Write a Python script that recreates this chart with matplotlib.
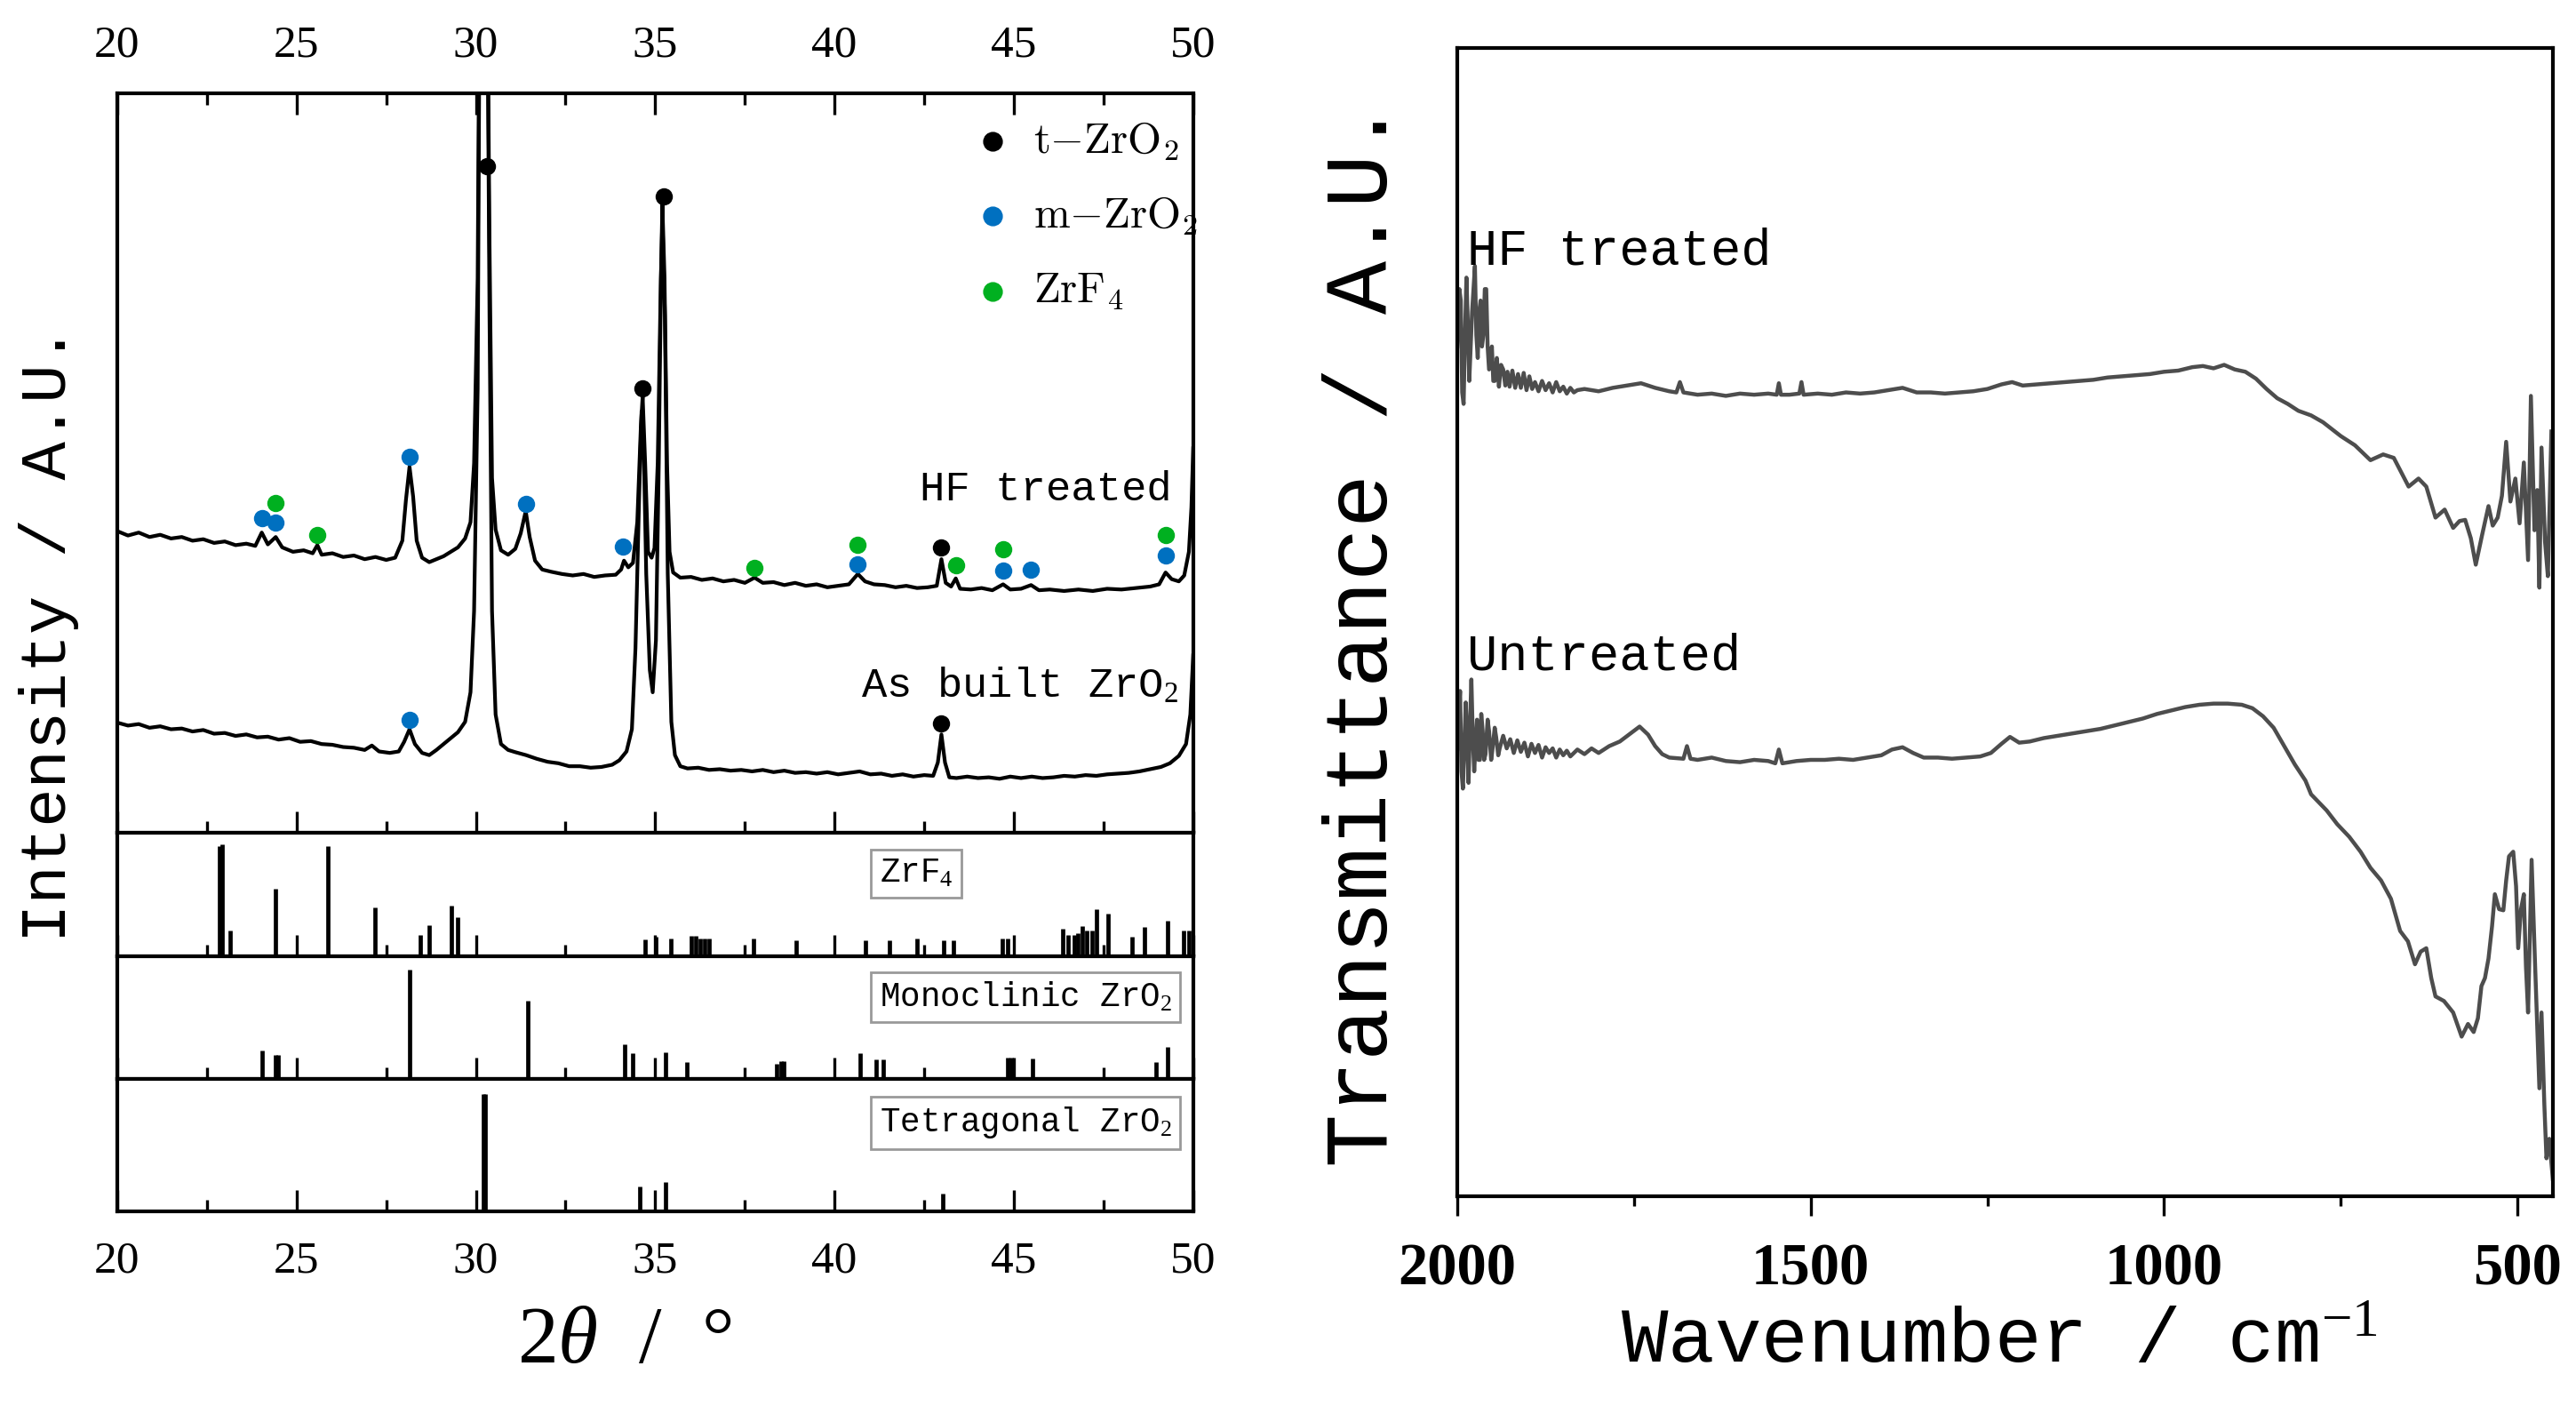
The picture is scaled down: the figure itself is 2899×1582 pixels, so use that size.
import numpy as np
import matplotlib
matplotlib.use("Agg")
import matplotlib.pyplot as plt
from matplotlib.ticker import MultipleLocator

MONO = ["Liberation Mono", "DejaVu Sans Mono"]
SERIF = ["Liberation Serif", "DejaVu Serif"]
plt.rcParams["mathtext.fontset"] = "custom"
plt.rcParams["mathtext.rm"] = "Liberation Serif"
plt.rcParams["mathtext.it"] = "Liberation Serif:italic"

# ---------------- XRD patterns (2theta / deg, intensity in a.u.) ----------------
hf_2t = [20.0, 20.3, 20.6, 20.9, 21.2, 21.5, 21.8, 22.1, 22.4, 22.7, 23.0, 23.3, 23.6, 23.85,
         24.03, 24.2, 24.42, 24.6, 24.9, 25.2, 25.45, 25.58, 25.7, 26.0, 26.3, 26.6, 26.9, 27.2,
         27.5, 27.75, 27.95, 28.05, 28.15, 28.25, 28.35, 28.5, 28.7, 28.9, 29.1, 29.3, 29.5, 29.7,
         29.85, 29.95, 30.05, 30.12, 30.3, 30.38, 30.45, 30.55, 30.7, 30.9, 31.1, 31.25, 31.39,
         31.5, 31.65, 31.85, 32.1, 32.4, 32.7, 33.0, 33.3, 33.6, 33.9, 34.05, 34.13, 34.25, 34.38,
         34.5, 34.6, 34.65, 34.72, 34.8, 34.9, 34.98, 35.07, 35.14, 35.2, 35.26, 35.33, 35.4, 35.5,
         35.7, 36.0, 36.3, 36.6, 36.9, 37.2, 37.5, 37.77, 38.0, 38.3, 38.6, 38.9, 39.2, 39.5, 39.8,
         40.1, 40.4, 40.65, 40.85, 41.1, 41.4, 41.7, 42.0, 42.3, 42.6, 42.85, 42.98, 43.1, 43.25,
         43.38, 43.5, 43.8, 44.1, 44.4, 44.7, 44.9, 45.2, 45.48, 45.7, 46.0, 46.4, 46.8, 47.2,
         47.6, 48.0, 48.4, 48.8, 49.05, 49.23, 49.4, 49.6, 49.75, 49.88, 49.95, 50.0]
hf_int = [40.8, 40.2, 40.6, 40.0, 40.3, 39.8, 40.0, 39.5, 39.7, 39.2, 39.4, 38.9, 39.1, 38.8,
          40.6, 39.0, 40.0, 38.6, 38.0, 38.2, 37.8, 38.9, 37.6, 37.8, 37.3, 37.5, 37.0, 37.3,
          36.9, 37.2, 39.5, 45.0, 49.5, 45.5, 39.5, 37.2, 36.6, 37.0, 37.4, 38.0, 38.6, 39.8,
          42.0, 50.0, 75.0, 130.0, 130.0, 80.0, 48.0, 41.0, 38.2, 37.6, 38.4, 40.5, 43.5,
          40.0, 36.8, 35.6, 35.3, 35.0, 34.8, 35.0, 34.6, 34.8, 34.9, 35.6, 36.8, 35.9, 36.5,
          42.0, 55.0, 59.0, 50.0, 38.0, 37.2, 38.5, 50.0, 70.0, 85.0, 75.0, 50.0, 38.0, 35.2,
          34.5, 34.6, 34.2, 34.4, 34.0, 34.2, 33.8, 34.5, 33.8, 33.9, 33.5, 33.8, 33.4, 33.6, 33.2,
          33.4, 33.6, 35.0, 34.0, 33.6, 33.5, 33.2, 33.4, 33.1, 33.2, 33.4, 37.0, 33.8, 33.3,
          34.4, 33.0, 32.9, 33.1, 32.8, 33.6, 32.9, 33.0, 33.5, 32.8, 32.9, 32.7, 32.9, 32.7,
          33.0, 32.9, 33.1, 33.3, 33.6, 35.2, 34.3, 34.0, 34.8, 38.0, 44.0, 52.0]

ab_2t = [20.0, 20.3, 20.6, 20.9, 21.2, 21.5, 21.8, 22.1, 22.4, 22.7, 23.0, 23.3, 23.6, 23.9,
         24.2, 24.5, 24.8, 25.1, 25.4, 25.7, 26.0, 26.3, 26.6, 26.9, 27.1, 27.3, 27.6, 27.85,
         28.0, 28.15, 28.3, 28.5, 28.7, 28.9, 29.1, 29.3, 29.5, 29.7, 29.85, 29.95, 30.05, 30.12,
         30.3, 30.38, 30.45, 30.55, 30.7, 30.9, 31.1, 31.4, 31.7, 32.0, 32.3, 32.6, 32.9, 33.2,
         33.5, 33.8, 34.0, 34.2, 34.35, 34.45, 34.55, 34.62, 34.68, 34.75, 34.85, 34.93, 35.02,
         35.1, 35.16, 35.2, 35.27, 35.35, 35.45, 35.55, 35.7, 35.9, 36.2, 36.5, 36.8, 37.1, 37.4,
         37.7, 38.0, 38.3, 38.6, 38.9, 39.2, 39.5, 39.8, 40.1, 40.4, 40.7, 41.0, 41.3, 41.6, 41.9,
         42.2, 42.5, 42.75, 42.88, 42.98, 43.08, 43.2, 43.4, 43.7, 44.0, 44.3, 44.6, 44.9, 45.2,
         45.5, 45.8, 46.1, 46.4, 46.7, 47.0, 47.3, 47.6, 47.9, 48.2, 48.5, 48.8, 49.1, 49.35,
         49.6, 49.8, 49.92, 50.0]
ab_int = [14.9, 14.5, 14.7, 14.2, 14.4, 14.0, 14.1, 13.7, 13.9, 13.4, 13.5, 13.1, 13.3, 12.9,
          13.0, 12.6, 12.8, 12.3, 12.4, 12.0, 11.9, 11.6, 11.5, 11.2, 11.8, 11.0, 10.8, 11.0,
          12.3, 14.0, 12.0, 10.8, 10.5, 11.2, 12.0, 12.8, 13.6, 15.0, 19.0, 30.0, 60.0, 130.0,
          130.0, 70.0, 30.0, 16.0, 12.0, 11.2, 10.9, 10.5, 10.0, 9.6, 9.4, 9.0, 9.0, 8.8,
          8.9, 9.2, 9.8, 11.0, 14.0, 25.0, 45.0, 57.0, 52.0, 35.0, 22.0, 19.0, 26.0,
          50.0, 75.0, 83.0, 70.0, 35.0, 15.0, 10.5, 9.0, 8.7, 8.8, 8.5, 8.6, 8.4, 8.5,
          8.3, 8.5, 8.2, 8.4, 8.1, 8.2, 8.0, 8.2, 7.9, 8.1, 8.3, 7.9, 8.0, 7.7, 7.9,
          7.6, 7.8, 7.7, 9.5, 13.3, 9.5, 7.5, 7.4, 7.6, 7.4, 7.5, 7.3, 7.6, 7.4,
          7.6, 7.4, 7.5, 7.7, 7.6, 7.8, 7.7, 7.9, 8.0, 8.1, 8.3, 8.6, 8.9, 9.4,
          10.4, 12.0, 16.0, 24.0]

# phase markers on the patterns
hf_t_2t = [30.3, 34.65, 35.25, 42.98]
hf_t_int = [90.2, 60.1, 86.1, 38.6]
hf_m_2t = [24.03, 24.42, 28.15, 31.39, 34.11, 40.65, 44.7, 45.48, 49.23]
hf_m_int = [42.5, 41.9, 50.9, 44.5, 38.7, 36.3, 35.5, 35.6, 37.5]
hf_f_2t = [24.42, 25.58, 37.77, 40.65, 43.38, 44.7, 49.23]
hf_f_int = [44.6, 40.3, 35.8, 39.0, 36.2, 38.4, 40.3]
ab_t_2t = [42.98]
ab_t_int = [14.8]
ab_m_2t = [28.15]
ab_m_int = [15.3]

# reference stick patterns (relative intensity, % of panel height)
zrf4_2t = [22.85, 22.93, 23.15, 24.41, 25.87, 27.18, 28.46, 28.69, 29.31, 29.5, 34.71, 35.02,
           35.44, 36.0, 36.13, 36.26, 36.39, 36.5, 37.73, 38.94, 40.87, 41.54, 42.31, 43.04,
           43.31, 44.68, 44.82, 46.37, 46.52, 46.68, 46.79, 46.9, 47.03, 47.19, 47.3, 47.63,
           48.29, 48.63, 49.29, 49.73, 49.89]
zrf4_int = [89.5, 90.5, 20.6, 54.6, 88.9, 39.7, 17.5, 25.4, 41.3, 31.7, 13.7, 16.0,
            14.3, 16.5, 16.5, 14.3, 14.3, 14.3, 14.3, 13.3, 12.7, 12.7, 14.3, 13.3,
            12.7, 14.3, 14.3, 22.2, 17.5, 17.5, 19.0, 24.8, 20.6, 20.6, 38.1, 34.9,
            15.9, 23.8, 28.6, 20.6, 20.6]
mono_2t = [24.03, 24.41, 24.48, 28.15, 31.46, 34.16, 34.38, 35.29, 35.89, 38.39, 38.5, 38.59,
           40.72, 41.16, 41.36, 44.82, 44.93, 45.53, 48.96, 49.29]
mono_int = [23.0, 19.8, 19.8, 89.0, 63.8, 28.3, 20.8, 22.0, 13.5, 12.6, 14.5, 14.5,
            21.4, 15.7, 15.7, 17.6, 17.6, 16.7, 13.5, 26.1]
tetra_2t = [30.2, 30.27, 34.57, 35.29, 43.01]
tetra_int = [88.6, 88.6, 19.0, 21.9, 13.2]

# ---------------- FTIR spectra (wavenumber / cm-1, transmittance a.u.) ----------------
hf_wn = [2000, 1997, 1995, 1993, 1991, 1989, 1987, 1985, 1983, 1981, 1979, 1977, 1975, 1973,
         1971, 1969, 1967, 1965, 1963, 1961, 1959, 1957, 1955, 1953, 1951, 1949, 1947, 1944,
         1941, 1938, 1935, 1932, 1929, 1926, 1922, 1918, 1914, 1910, 1906, 1902, 1898, 1894,
         1890, 1885, 1880, 1875, 1870, 1865, 1860, 1855, 1850, 1845, 1840, 1835, 1830, 1820,
         1800, 1780, 1760, 1740, 1720, 1700, 1690, 1685, 1680, 1660, 1640, 1620, 1600, 1580,
         1560, 1548, 1545, 1542, 1530, 1516, 1513, 1510, 1490, 1470, 1450, 1430, 1410, 1390,
         1370, 1350, 1330, 1310, 1290, 1270, 1250, 1230, 1215, 1200, 1180, 1160, 1140, 1120,
         1100, 1080, 1060, 1040, 1020, 1000, 980, 960, 945, 930, 915, 900, 885, 870, 855, 840,
         825, 810, 792, 775, 750, 730, 708, 690, 675, 654, 640, 629, 616, 603, 591, 582, 574,
         566, 559, 550, 541, 535, 528, 522, 516, 510, 503, 497, 491, 485, 481, 476, 472, 469,
         466, 461, 457, 452]
hf_tr = [74.0, 79.0, 78.0, 70.0, 69.0, 75.0, 80.0, 76.0, 71.0, 74.0, 77.0, 79.0, 81.0, 75.0,
         73.0, 77.0, 78.0, 74.0, 75.0, 79.0, 79.0, 74.0, 72.0, 73.0, 74.0, 71.0, 71.0, 73.0,
         70.5, 72.4, 72.0, 70.6, 71.8, 70.5, 71.9, 70.4, 71.6, 70.4, 71.7, 70.2, 71.4, 70.3,
         70.9, 70.1, 71.0, 70.2, 70.8, 70.0, 70.9, 70.1, 70.5, 69.9, 70.4, 70.0, 70.2, 70.3,
         70.1, 70.4, 70.6, 70.8, 70.4, 70.1, 70.0, 70.9, 70.0, 69.8, 69.9, 69.7, 69.9, 69.8,
         69.9, 69.8, 70.8, 69.8, 69.8, 69.9, 70.9, 69.8, 69.9, 69.8, 70.0, 69.9, 70.0, 70.2,
         70.4, 70.0, 70.0, 69.9, 70.0, 70.1, 70.3, 70.7, 70.9, 70.6, 70.7, 70.8, 70.9, 71.0,
         71.1, 71.3, 71.4, 71.5, 71.6, 71.8, 71.9, 72.2, 72.3, 72.1, 72.4, 72.0, 71.8, 71.2,
         70.3, 69.5, 69.0, 68.4, 68.0, 67.4, 66.2, 65.4, 64.1, 64.6, 64.3, 61.8, 62.5, 61.8,
         59.1, 59.8, 58.2, 58.8, 58.9, 57.3, 55.0, 57.6, 60.1, 58.4, 59.1, 61.0, 65.7, 60.5,
         62.5, 58.6, 63.9, 55.4, 69.7, 58.0, 61.5, 53.0, 65.2, 57.0, 54.0, 66.6]

un_wn = [2000, 1998, 1996, 1994, 1992, 1990, 1988, 1986, 1984, 1982, 1980, 1978, 1976, 1974,
         1972, 1970, 1968, 1966, 1964, 1962, 1960, 1957, 1955, 1952, 1950, 1947, 1945, 1942,
         1940, 1935, 1930, 1925, 1920, 1915, 1910, 1905, 1900, 1895, 1890, 1885, 1880, 1875,
         1870, 1865, 1860, 1855, 1850, 1845, 1840, 1830, 1820, 1810, 1800, 1785, 1770, 1755,
         1742, 1730, 1720, 1710, 1700, 1680, 1675, 1670, 1660, 1640, 1620, 1600, 1580, 1560,
         1550, 1545, 1540, 1520, 1500, 1480, 1460, 1440, 1420, 1400, 1385, 1370, 1355, 1340,
         1320, 1300, 1280, 1260, 1245, 1230, 1218, 1205, 1190, 1170, 1150, 1130, 1110, 1090,
         1070, 1050, 1030, 1010, 990, 970, 950, 930, 910, 890, 875, 860, 845, 830, 815, 800,
         792, 770, 755, 738, 722, 708, 693, 679, 666, 655, 645, 637, 629, 622, 616, 604, 591,
         579, 570, 562, 556, 551, 546, 541, 536, 532, 526, 520, 516, 512, 506, 502, 499, 495,
         491, 488, 485, 480, 475, 469, 466, 462, 459, 455, 450]
un_tr = [39.0, 42.0, 44.0, 37.0, 35.5, 39.0, 43.0, 40.0, 36.0, 41.0, 45.0, 40.0, 37.0, 39.5,
         41.5, 38.0, 38.0, 42.0, 40.5, 38.0, 38.5, 41.5, 40.5, 38.0, 39.0, 40.8, 40.0, 38.4,
         39.0, 40.1, 39.0, 39.8, 38.6, 39.7, 38.7, 39.5, 38.3, 39.4, 38.6, 39.3, 38.2, 39.1,
         38.6, 39.0, 38.2, 38.9, 38.4, 38.8, 38.3, 38.9, 38.5, 39.0, 38.6, 39.2, 39.6, 40.3,
         40.9, 40.2, 39.2, 38.5, 38.2, 38.1, 39.2, 38.1, 38.0, 38.2, 37.9, 37.8, 38.0, 37.9,
         37.7, 38.9, 37.7, 37.9, 38.0, 38.0, 38.1, 38.0, 38.2, 38.4, 38.9, 39.1, 38.6, 38.2,
         38.2, 38.1, 38.2, 38.3, 38.6, 39.4, 40.0, 39.5, 39.6, 39.9, 40.1, 40.3, 40.5, 40.7,
         41.0, 41.3, 41.6, 42.0, 42.3, 42.6, 42.8, 42.9, 42.9, 42.8, 42.5, 41.8, 40.8, 39.2,
         37.6, 36.2, 35.0, 33.6, 32.4, 31.3, 30.0, 28.6, 27.5, 25.9, 23.1, 22.2, 20.2, 21.3,
         21.6, 19.0, 17.4, 17.0, 16.0, 13.9, 15.0, 14.3, 15.5, 18.3, 19.0, 20.7, 23.5, 26.3,
         25.0, 24.9, 27.5, 29.6, 30.0, 27.0, 21.6, 25.0, 26.3, 20.0, 16.0, 29.3, 20.0, 9.4,
         16.0, 8.0, 3.3, 5.0, 1.5]

BLUE = "#0070c0"
GREEN = "#00b020"
SPINE_W = 1.5

fig = plt.figure(figsize=(14.495, 7.91), dpi=200)

L, W = 0.0455, 0.4177
ax = fig.add_axes([L, 0.4077, W, 0.5259])
ax_f = fig.add_axes([L, 0.3198, W, 0.0879])
ax_m = fig.add_axes([L, 0.2326, W, 0.0872])
ax_t = fig.add_axes([L, 0.1384, W, 0.0942])

for a in (ax, ax_f, ax_m, ax_t):
    a.set_xlim(20, 50)
    a.set_yticks([])
    a.xaxis.set_major_locator(MultipleLocator(5))
    a.xaxis.set_minor_locator(MultipleLocator(2.5))
    a.tick_params(axis="x", which="both", direction="in", width=1.2, labelbottom=False)
    a.tick_params(axis="x", which="major", length=8.6)
    a.tick_params(axis="x", which="minor", length=4.7)
    for s in a.spines.values():
        s.set_linewidth(SPINE_W)

ax.set_ylim(0, 100)
ax.tick_params(axis="x", which="both", top=True, labeltop=True, pad=11)
ax_t.tick_params(axis="x", labelbottom=True, pad=12)
for a in (ax, ax_t):
    for lab in a.get_xticklabels():
        lab.set_fontfamily(SERIF)
        lab.set_fontsize(18.5)

ax.plot(hf_2t, hf_int, color="black", lw=1.5)
ax.plot(ab_2t, ab_int, color="black", lw=1.5)
ms = 7
ax.plot(hf_t_2t, hf_t_int, "o", color="black", ms=ms, mec="none")
ax.plot(hf_m_2t, hf_m_int, "o", color=BLUE, ms=ms, mec="none")
ax.plot(hf_f_2t, hf_f_int, "o", color=GREEN, ms=ms, mec="none")
ax.plot(ab_t_2t, ab_t_int, "o", color="black", ms=ms, mec="none")
ax.plot(ab_m_2t, ab_m_int, "o", color=BLUE, ms=ms, mec="none")

h1 = ax.scatter([], [], s=ms ** 2, color="black", label=r"$\mathrm{t{-}ZrO_2}$")
h2 = ax.scatter([], [], s=ms ** 2, color=BLUE, label=r"$\mathrm{m{-}ZrO_2}$")
h3 = ax.scatter([], [], s=ms ** 2, color=GREEN, label=r"$\mathrm{ZrF_4}$")
leg = ax.legend(handles=[h1, h2, h3], loc="upper left", bbox_to_anchor=(0.757, 1.018),
                frameon=False, fontsize=17.6, handlelength=1.0, handletextpad=0.45,
                labelspacing=0.73)
for t in leg.get_texts():
    t.set_math_fontfamily("cm")

ax.text(49.4, 46.4, "HF treated", family=MONO, fontsize=17, ha="right", va="center")
ax.text(49.6, 19.8, "As built ZrO$_2$", family=MONO, fontsize=17, ha="right", va="center")

box = dict(boxstyle="square,pad=0.25", fc="white", ec="#999999", lw=1.0)
for a, x2t, inten, name in ((ax_f, zrf4_2t, zrf4_int, "ZrF$_4$"),
                           (ax_m, mono_2t, mono_int, "Monoclinic ZrO$_2$"),
                           (ax_t, tetra_2t, tetra_int, "Tetragonal ZrO$_2$")):
    a.set_ylim(0, 100)
    a.vlines(x2t, 0, inten, color="black", lw=1.7)
    a.text(41.25, 67, name, family=MONO, fontsize=13.5, ha="left", va="center", bbox=box)

fig.text(0.019, 0.549, "Intensity / A.U.", family=MONO, fontsize=26, rotation=90,
         ha="center", va="center")
fig.text(0.2425, 0.045, r"2$\theta$  /  °", family=SERIF, fontsize=33, ha="center",
         va="center")

# ---------------- FTIR panel ----------------
ax2 = fig.add_axes([0.5657, 0.1492, 0.4253, 0.8167])
ax2.plot(hf_wn, hf_tr, color="#4d4d4d", lw=1.6)
ax2.plot(un_wn, un_tr, color="#4d4d4d", lw=1.6)
ax2.set_xlim(2000, 450)
ax2.set_ylim(0, 100)
ax2.set_yticks([])
ax2.set_xticks([2000, 1500, 1000, 500])
ax2.xaxis.set_minor_locator(MultipleLocator(250))
ax2.tick_params(axis="x", which="both", direction="out", width=1.2, pad=11)
ax2.tick_params(axis="x", which="major", length=8)
ax2.tick_params(axis="x", which="minor", length=4)
for lab in ax2.get_xticklabels():
    lab.set_fontfamily(SERIF)
    lab.set_fontsize(24)
    lab.set_fontweight("bold")
for s in ax2.spines.values():
    s.set_linewidth(SPINE_W)
ax2.text(1986, 82.3, "HF treated", family=MONO, fontsize=20.5, ha="left", va="center")
ax2.text(1986, 47.0, "Untreated", family=MONO, fontsize=20.5, ha="left", va="center")

fig.text(0.5295, 0.549, "Transmittance / A.U.", family=MONO, fontsize=36, rotation=90,
         ha="center", va="center")
fig.text(0.776, 0.045, "Wavenumber / cm$^{-1}$", family=MONO, fontsize=31.5,
         ha="center", va="center")

fig.savefig("out.png", dpi=200)
